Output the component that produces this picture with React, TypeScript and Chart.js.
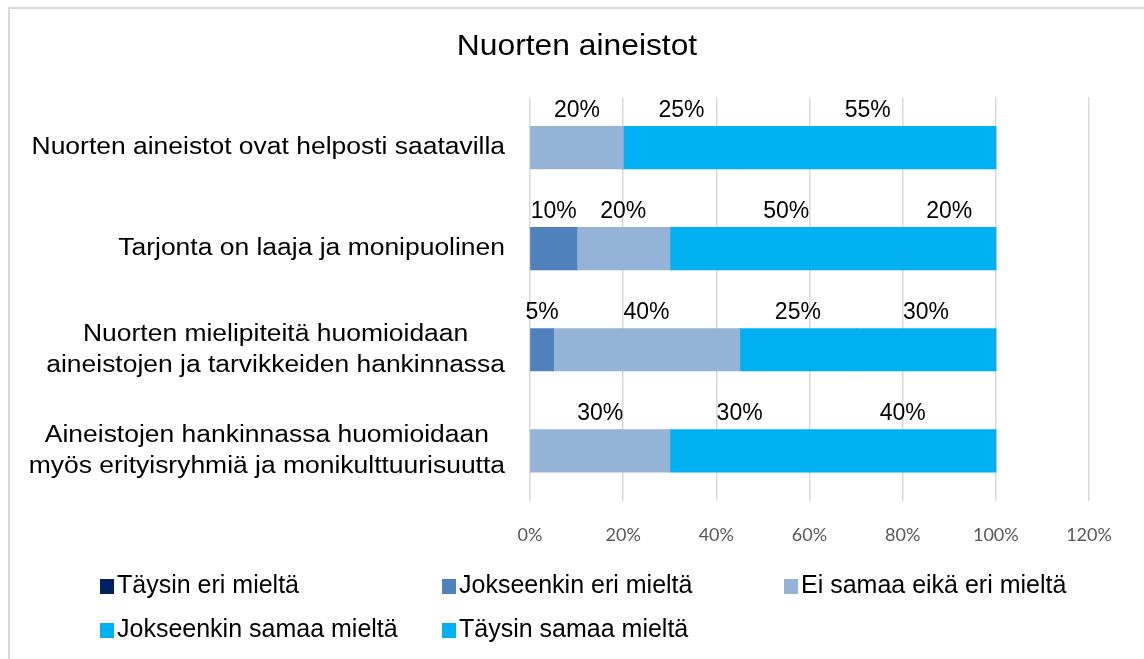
import React, { useEffect, useRef } from "react";
import { Chart, registerables } from "chart.js";

Chart.register(...registerables);

const chartTitle = "Nuorten aineistot";
const categories: string[][] = [
  ["Nuorten aineistot ovat helposti saatavilla"],
  ["Tarjonta on laaja ja monipuolinen"],
  ["Nuorten mielipiteitä huomioidaan", "aineistojen ja tarvikkeiden hankinnassa"],
  ["Aineistojen hankinnassa huomioidaan", "myös erityisryhmiä ja monikulttuurisuutta"],
];
const seriesNames = [
  "Täysin eri mieltä",
  "Jokseenkin eri mieltä",
  "Ei samaa eikä eri mieltä",
  "Jokseenkin samaa mieltä",
  "Täysin samaa mieltä",
];
const taysinEri = [0, 0, 0, 0];
const jokseenkinEri = [0, 10, 5, 0];
const eiSamaa = [20, 20, 40, 30];
const jokseenkinSamaa = [25, 50, 25, 30];
const taysinSamaa = [55, 20, 30, 40];
const seriesColors = ["#002060", "#4F81BD", "#95B3D7", "#00B0F0", "#00B0F0"];
const xMin = 0;
const xMax = 120;
const xStep = 20;

const FONT = '"Liberation Sans", Arial, sans-serif';

function drawText(
  ctx: CanvasRenderingContext2D,
  text: string,
  x: number,
  y: number,
  align: CanvasTextAlign,
  font: string,
  color: string,
  sx = 1
) {
  ctx.save();
  ctx.font = font;
  ctx.fillStyle = color;
  ctx.textAlign = align;
  ctx.textBaseline = "middle";
  ctx.translate(x, y);
  ctx.scale(sx, 1);
  ctx.fillText(text, 0, 0);
  ctx.restore();
}

const decorPlugin = {
  id: "decor",
  beforeDraw(chart: any) {
    const ctx: CanvasRenderingContext2D = chart.ctx;
    ctx.save();
    ctx.fillStyle = "#FFFFFF";
    ctx.fillRect(0, 0, chart.width, chart.height);
    ctx.fillStyle = "#D9D9D9";
    ctx.fillRect(8, 7, chart.width - 8, 2);
    ctx.fillRect(8, 7, 2, chart.height - 7);
    ctx.restore();
  },
  afterDraw(chart: any) {
    const ctx: CanvasRenderingContext2D = chart.ctx;
    const yScale = chart.scales.y;
    // title
    drawText(ctx, chartTitle, chart.width / 2 + 5, 47, "center", `30px ${FONT}`, "#000000", 1.06);

    // category labels
    const catFont = `23px ${FONT}`;
    const catSx = 1.15;
    const lineGap = 31;
    const rightEdge = chart.chartArea.left - 25;
    ctx.save();
    ctx.font = catFont;
    categories.forEach((lines, i) => {
      const cy = yScale.getPixelForValue(i);
      let maxW = 0;
      lines.forEach((l) => {
        maxW = Math.max(maxW, ctx.measureText(l).width * catSx);
      });
      const cx = rightEdge - maxW / 2;
      lines.forEach((l, j) => {
        const ly = cy + (j - (lines.length - 1) / 2) * lineGap;
        drawText(ctx, l, cx, ly, "center", catFont, "#000000", catSx);
      });
    });
    ctx.restore();

    // data labels above bars
    chart.data.datasets.forEach((ds: any, di: number) => {
      const meta = chart.getDatasetMeta(di);
      meta.data.forEach((bar: any, i: number) => {
        const v = ds.data[i];
        if (!v) return;
        const props = bar.getProps(["x", "y", "base", "height"], true);
        const cx = (props.x + props.base) / 2;
        const top = props.y - props.height / 2;
        drawText(ctx, `${v}%`, cx, top - 16, "center", `23px ${FONT}`, "#000000", 1);
      });
    });

    // legend grid
    const legFont = `25px ${FONT}`;
    chart.data.datasets.forEach((ds: any, i: number) => {
      const col = i % 3;
      const row = Math.floor(i / 3);
      const x = 100 + col * 342;
      const y = 586 + row * 44;
      ctx.save();
      ctx.fillStyle = ds.backgroundColor;
      ctx.fillRect(x, y - 7, 14, 15);
      ctx.restore();
      drawText(ctx, ds.label, x + 17, y, "left", legFont, "#000000", 1);
    });
  },
};

export default function App() {
  const canvasRef = useRef<HTMLCanvasElement | null>(null);

  useEffect(() => {
    if (!canvasRef.current) return;
    const seriesData = [taysinEri, jokseenkinEri, eiSamaa, jokseenkinSamaa, taysinSamaa];
    const chart = new Chart(canvasRef.current, {
      type: "bar",
      data: {
        labels: categories.map((c) => c.join(" ")),
        datasets: seriesNames.map((name, i) => ({
          label: name,
          data: seriesData[i].map((v) => (v === 0 ? null : v)),
          backgroundColor: seriesColors[i],
          borderWidth: 0,
          inflateAmount: 0.6,
          categoryPercentage: 1,
          barPercentage: 0.415,
        })),
      },
      options: {
        indexAxis: "y",
        responsive: false,
        animation: false,
        layout: { padding: { left: 530, right: 55, top: 97, bottom: 90 } },
        plugins: {
          legend: { display: false },
          title: { display: false },
          tooltip: { enabled: false },
        },
        scales: {
          x: {
            stacked: true,
            min: xMin,
            max: xMax,
            ticks: {
              stepSize: xStep,
              padding: 23,
              color: "#595959",
              font: { family: "Lato, 'Open Sans', sans-serif", size: 18 },
              callback: (v: any) => `${v}%`,
            },
            grid: { color: "#D9D9D9", lineWidth: 1.5, drawTicks: false },
            border: { display: false },
          },
          y: {
            stacked: true,
            display: false,
          },
        },
      },
      plugins: [decorPlugin],
    });
    return () => chart.destroy();
  }, []);

  return (
    <div style={{ position: "absolute", left: 0, top: 0, width: 1144, height: 659 }}>
      <canvas ref={canvasRef} width={1144} height={659} style={{ display: "block" }} />
    </div>
  );
}
